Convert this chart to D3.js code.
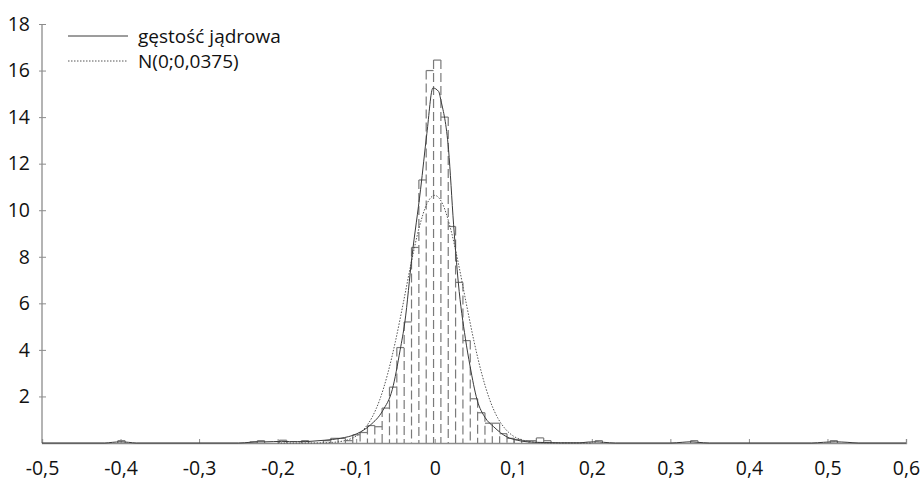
<!DOCTYPE html>
<html><head><meta charset="utf-8">
<script src="https://cdn.jsdelivr.net/npm/d3@7"></script>
<style>
html,body{margin:0;padding:0;background:#fff;}
svg{display:block;font-family:"Open Sans",sans-serif;}
</style></head>
<body><svg id="c" width="924" height="481"></svg>
<script>
// ---- data ----
const xTickValues = [-0.5,-0.4,-0.3,-0.2,-0.1,0,0.1,0.2,0.3,0.4,0.5,0.6];
const yTickValues = [2,4,6,8,10,12,14,16,18];
const legendLabels = ["gęstość jądrowa","N(0;0,0375)"];

// histogram: bins of equal width, index k => [origin + k*width, origin + (k+1)*width]
const binOrigin = -0.0015;
const binWidth = 0.00935;
const binIndex = [-43,-25,-24,-21,-18,-15,-14,-13,-12,-11,-10,-9,-8,-7,-6,-5,-4,-3,-2,-1,
                  0,1,2,3,4,5,6,7,8,9,10,11,12,13,14,15,22,35,54];
const binHeight = [0.1,0.05,0.1,0.12,0.1,0.1,0.2,0.2,0.1,0.35,0.45,0.75,0.7,1.5,2.4,4.1,5.2,8.4,11.3,16.0,
                   16.45,14.0,9.3,6.9,4.4,1.9,1.3,0.85,0.85,0.4,0.2,0.15,0.1,0.1,0.22,0.1,0.1,0.1,0.1];

// kernel density estimate
const kdeX = [-0.5,-0.42,-0.41,-0.40,-0.39,-0.38,-0.25,-0.235,-0.225,-0.215,-0.205,-0.195,-0.185,-0.175,-0.165,-0.155,
              -0.14,-0.12,-0.099,-0.082,-0.066,-0.054,-0.044,-0.038,-0.029,-0.018,-0.010,-0.0023,0.005,0.008,0.0176,
              0.024,0.030,0.039,0.045,0.054,0.064,0.075,0.092,0.105,0.118,0.14,0.16,0.185,0.195,0.205,0.215,0.23,
              0.30,0.315,0.325,0.335,0.35,0.48,0.495,0.51,0.525,0.54,0.6];
const kdeY = [0,0,0.03,0.05,0.03,0,0,0.03,0.05,0.05,0.06,0.07,0.06,0.06,0.06,0.08,
              0.12,0.2,0.4,0.77,1.4,2.3,4.0,5.2,8.0,10.9,13.3,15.25,15.1,14.7,12.6,
              9.4,6.9,4.5,3.3,1.85,1.1,0.7,0.26,0.12,0.05,0.02,0.01,0.01,0.04,0.05,0.03,0,
              0,0.03,0.05,0.03,0,0,0.03,0.05,0.03,0,0];

// normal density N(0; 0,0375)
const normX = [-0.2,-0.16,-0.15,-0.14,-0.13,-0.12,-0.11,-0.10,-0.09,-0.08,-0.07,-0.06,-0.05,-0.04,-0.03,-0.02,-0.01,0,
               0.01,0.02,0.03,0.04,0.05,0.06,0.07,0.08,0.09,0.10,0.11,0.12,0.13,0.14,0.15,0.16,0.2];
const normY = [0,0.001,0.004,0.01,0.026,0.064,0.144,0.30,0.60,1.09,1.86,2.96,4.37,6.02,7.73,9.23,10.27,10.64,
               10.27,9.23,7.73,6.02,4.37,2.96,1.86,1.09,0.60,0.30,0.144,0.064,0.026,0.01,0.004,0.001,0];

// ---- drawing ----
const svg = d3.select("#c");
const m = {left:42, right:18, top:24, bottom:38};
const W = 924, H = 481;
const x = d3.scaleLinear().domain([-0.5,0.6]).range([m.left, W - m.right]);
const y = d3.scaleLinear().domain([0,18]).range([H - m.bottom, m.top]);
const fmt = v => d3.format(".1f")(v).replace("−","-").replace(".",",");
const axisColor = "#8c8c8c";
const textColor = "#111";
const fontSize = 19.5;
const legendFontSize = 19;

// axes
const xAxis = svg.append("g").attr("transform",`translate(0,${y(0)})`)
  .call(d3.axisBottom(x).tickValues(xTickValues).tickSize(-4).tickPadding(18)
        .tickFormat(d => d===0 ? "0" : fmt(d)));
xAxis.select(".domain").attr("stroke",axisColor).attr("stroke-width",1.3);
xAxis.selectAll(".tick line").attr("stroke",axisColor);
xAxis.selectAll("text").attr("fill",textColor).attr("font-size",fontSize).attr("font-family","Open Sans");

const yAxis = svg.append("g").attr("transform",`translate(${x(-0.5)},0)`)
  .call(d3.axisLeft(y).tickValues(yTickValues).tickSize(4).tickPadding(8).tickSizeOuter(0));
yAxis.select(".domain").attr("stroke",axisColor).attr("stroke-width",1.3)
  .attr("d",`M0,${y(0)}V${y(18)}`);
yAxis.selectAll(".tick line").attr("stroke",axisColor).attr("x1",4).attr("x2",-3);
yAxis.selectAll("text").attr("fill",textColor).attr("font-size",fontSize).attr("font-family","Open Sans");

// histogram
const bins = binIndex.map((k,i) => ({x0: binOrigin + k*binWidth, x1: binOrigin + (k+1)*binWidth, h: binHeight[i]}));
const hist = svg.append("g").attr("stroke","#7a7a7a").attr("fill","none").attr("stroke-width",1.2);
const edges = new Map();
bins.forEach(b => {
  [b.x0,b.x1].forEach(e => {
    const key = e.toFixed(6);
    edges.set(key, Math.max(edges.get(key)||0, b.h));
  });
});
edges.forEach((h,key) => {
  hist.append("line").attr("x1",x(+key)).attr("x2",x(+key))
    .attr("y1",y(h)).attr("y2",y(0)).attr("stroke-dasharray","9,4");
});
hist.selectAll("line.top").data(bins).join("line").attr("class","top")
  .attr("x1",d=>x(d.x0)).attr("x2",d=>x(d.x1)).attr("y1",d=>y(d.h)).attr("y2",d=>y(d.h));

// normal curve (dotted)
const normLine = d3.line().x((d,i)=>x(normX[i])).y(d=>y(d)).curve(d3.curveMonotoneX);
svg.append("path").attr("d",normLine(normY)).attr("fill","none")
  .attr("stroke","#555").attr("stroke-width",1).attr("stroke-dasharray","1.5,1.5");

// kernel curve (solid)
const kdeLine = d3.line().x((d,i)=>x(kdeX[i])).y(d=>y(d)).curve(d3.curveMonotoneX);
svg.append("path").attr("d",kdeLine(kdeY)).attr("fill","none")
  .attr("stroke","#3a3a3a").attr("stroke-width",1);

// legend
const leg = svg.append("g");
const legY = [36, 61];
leg.append("line").attr("x1",68).attr("x2",128).attr("y1",legY[0]).attr("y2",legY[0])
  .attr("stroke","#3a3a3a").attr("stroke-width",1);
leg.append("line").attr("x1",68).attr("x2",128).attr("y1",legY[1]).attr("y2",legY[1])
  .attr("stroke","#555").attr("stroke-width",1).attr("stroke-dasharray","1.5,1.5");
legendLabels.forEach((t,i) => {
  leg.append("text").attr("x",138).attr("y",legY[i]).attr("dy","0.35em")
    .attr("font-size",legendFontSize).attr("fill",textColor).text(t);
});
</script></body></html>
